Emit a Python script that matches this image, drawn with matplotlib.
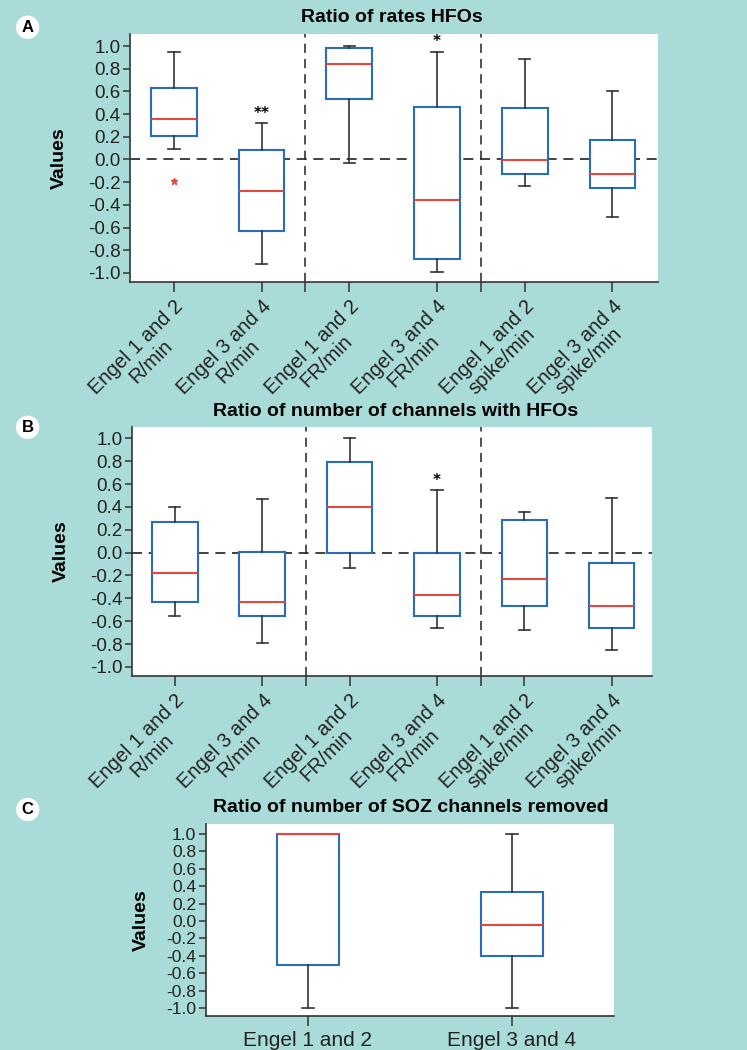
import matplotlib
matplotlib.use("Agg")
import matplotlib.pyplot as plt

plt.rcParams['font.family'] = ['Liberation Sans', 'DejaVu Sans']

BG = '#a9dcd8'
BOXC = '#2a6cb8'
MEDC = '#e5473e'
WHC = '#333333'

# ---- data ----
labels_ab = ["Engel 1 and 2\nR/min", "Engel 3 and 4\nR/min",
             "Engel 1 and 2\nFR/min", "Engel 3 and 4\nFR/min",
             "Engel 1 and 2\nspike/min", "Engel 3 and 4\nspike/min"]
a_whislo = [0.09, -0.92, -0.03, -0.99, -0.23, -0.51]
a_q1     = [0.21, -0.63, 0.53, -0.88, -0.13, -0.25]
a_med    = [0.36, -0.28, 0.84, -0.36, -0.005, -0.13]
a_q3     = [0.63, 0.08, 0.98, 0.46, 0.45, 0.17]
a_whishi = [0.95, 0.32, 1.00, 0.95, 0.89, 0.60]
a_fliers = [[-0.19], [], [], [], [], []]
a_stars  = ["", "**", "", "*", "", ""]

b_whislo = [-0.556, -0.79, -0.13, -0.66, -0.68, -0.853]
b_q1     = [-0.43, -0.556, 0.0, -0.556, -0.466, -0.664]
b_med    = [-0.175, -0.43, 0.40, -0.37, -0.233, -0.466]
b_q3     = [0.27, 0.01, 0.79, 0.0, 0.285, -0.09]
b_whishi = [0.40, 0.47, 1.00, 0.55, 0.36, 0.475]
b_stars  = ["", "", "", "*", "", ""]

labels_c = ["Engel 1 and 2", "Engel 3 and 4"]
c_whislo = [-1.0, -1.0]
c_q1     = [-0.50, -0.40]
c_med    = [1.0, -0.05]
c_q3     = [1.0, 0.33]
c_whishi = [1.0, 1.0]

yticks = [1.0, 0.8, 0.6, 0.4, 0.2, 0.0, -0.2, -0.4, -0.6, -0.8, -1.0]

fig = plt.figure(figsize=(7.47, 10.5), dpi=100, facecolor=BG)


def stats(lo, q1, med, q3, hi, fl=None):
    out = []
    for i in range(len(lo)):
        out.append(dict(whislo=lo[i], q1=q1[i], med=med[i], q3=q3[i], whishi=hi[i],
                        fliers=(fl[i] if fl else [])))
    return out


def draw(ax, st, width, capw, xlim, ylim, ysize, lpad):
    ax.set_facecolor('white')
    ax.bxp(st, positions=list(range(1, len(st) + 1)), widths=width, capwidths=capw,
           patch_artist=True, showfliers=True,
           boxprops=dict(facecolor='white', edgecolor=BOXC, linewidth=1.5),
           medianprops=dict(color=MEDC, linewidth=1.5),
           whiskerprops=dict(color=WHC, linewidth=1.2),
           capprops=dict(color=WHC, linewidth=1.2),
           flierprops=dict(marker='*', markersize=5, markerfacecolor=MEDC,
                           markeredgecolor=MEDC, linestyle='none'),
           zorder=3)
    ax.set_xlim(*xlim)
    ax.set_ylim(*ylim)
    ax.set_yticks(yticks)
    ax.set_yticklabels([f"{v:.1f}" for v in yticks])
    for s in ['top', 'right']:
        ax.spines[s].set_visible(False)
    for s in ['left', 'bottom']:
        ax.spines[s].set_color('#333333')
        ax.spines[s].set_linewidth(1.2)
    ax.tick_params(axis='both', colors='#333333', labelcolor='#222222', width=1.1, length=5)
    ax.tick_params(axis='y', labelsize=ysize, pad=2)
    ax.set_ylabel("Values", fontsize=14, fontweight='bold', labelpad=lpad)


def panel_label(x, y, letter):
    fig.text(x, y, letter, fontsize=12, fontweight='bold', ha='center', va='center',
             bbox=dict(boxstyle='circle,pad=0.25', facecolor='white', edgecolor='none'))


def abpanel(rect, lo, q1, med, q3, hi, fl, stars, xlim, ylim):
    ax = fig.add_axes(rect)
    draw(ax, stats(lo, q1, med, q3, hi, fl), 0.52, 0.13, xlim, ylim, 13.5, 14)
    ax.axhline(0, color='#222222', linestyle=(0, (6, 4)), linewidth=1.2, zorder=2)
    for xv in (2.5, 4.5):
        ax.axvline(xv, color='#222222', linestyle=(0, (6, 4)), linewidth=1.1, zorder=2)
    ax.set_xticks(range(1, 7))
    ax.set_xticks([2.5, 4.5], minor=True)
    ax.tick_params(axis='x', which='minor', length=7, width=1.1, colors='#333333')
    ax.tick_params(axis='x', which='major', length=7)
    ax.set_xticklabels(labels_ab, rotation=45, ha='right', rotation_mode='anchor', fontsize=14.5,
                       linespacing=1.05, multialignment='center')
    for i, s in enumerate(stars):
        if s:
            ax.text(i + 1, hi[i] + 0.02, s, ha='center', va='bottom', fontsize=11,
                    fontweight='bold', family=['DejaVu Sans'])
    return ax


# ---- Panel A ----
abpanel([0.174, 0.7314, 0.707, 0.2362], a_whislo, a_q1, a_med, a_q3, a_whishi, a_fliers,
        a_stars, (0.5, 6.52), (-1.08, 1.106))
fig.text(0.524, 0.983, "Ratio of rates HFOs", ha='center', va='center', fontsize=14,
         fontweight='bold')
panel_label(0.037, 0.974, "A")

# ---- Panel B ----
abpanel([0.1767, 0.3562, 0.696, 0.2371], b_whislo, b_q1, b_med, b_q3, b_whishi, None,
        b_stars, (0.51, 6.46), (-1.08, 1.1))
fig.text(0.53, 0.608, "Ratio of number of channels with HFOs", ha='center', va='center',
         fontsize=14, fontweight='bold')
panel_label(0.037, 0.593, "B")

# ---- Panel C ----
axC = fig.add_axes([0.2758, 0.0324, 0.546, 0.1829])
draw(axC, stats(c_whislo, c_q1, c_med, c_q3, c_whishi), 0.3, 0.06,
     (0.5, 2.5), (-1.09, 1.115), 12.5, 12)
axC.set_xticks([1, 2])
axC.set_xticklabels(labels_c, fontsize=15)
axC.tick_params(axis='x', length=7)
fig.text(0.55, 0.231, "Ratio of number of SOZ channels removed", ha='center', va='center',
         fontsize=14, fontweight='bold')
panel_label(0.037, 0.229, "C")

fig.savefig("out.png", dpi=100, facecolor=BG)
